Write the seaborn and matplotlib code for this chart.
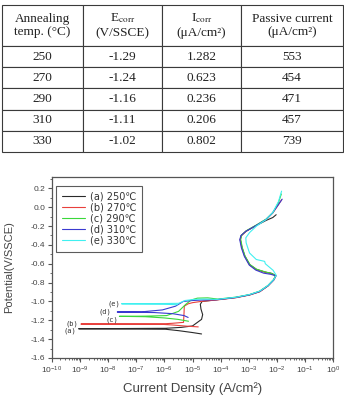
import numpy as np
import pandas as pd
import matplotlib
matplotlib.use('Agg')
import matplotlib.pyplot as plt
import seaborn as sns
from matplotlib.ticker import LogLocator, MultipleLocator, FormatStrFormatter, NullFormatter

# Table data
temps = [250, 270, 290, 310, 330]
e_corr = [-1.29, -1.24, -1.16, -1.11, -1.02]          # V/SSCE
i_corr = [1.282, 0.623, 0.236, 0.206, 0.802]          # uA/cm2
passive = [553, 454, 471, 457, 739]                   # uA/cm2
headers = ['Annealing\ntemp. (°C)', 'E$_{\\mathrm{corr}}$\n(V/SSCE)',
           'I$_{\\mathrm{corr}}$\n(μA/cm²)', 'Passive current\n(μA/cm²)']

# Polarization curves (current A/cm2, potential V)
i_250 = [2.1e-5, 1.0e-5, 3.2e-6, 1.1e-6, 8.9e-10, 1.1e-6, 4.0e-6, 1.0e-5, 2.1e-5, 2.3e-5, 2.0e-5, 1.9e-5,
         2.2e-5, 6.9e-5, 3.5e-4, 1.07e-3, 2.45e-3, 4.8e-3, 7.8e-3, 9.3e-3, 6.6e-3, 3.9e-3, 1.9e-3, 1.1e-3,
         7.3e-4, 5.8e-4, 5.0e-4, 5.4e-4, 8.0e-4, 1.8e-3, 4.2e-3, 7.2e-3, 9.5e-3]
e_250 = [-1.345, -1.33, -1.31, -1.295, -1.29, -1.285, -1.275, -1.26, -1.19, -1.14, -1.08, -1.03,
         -1.0, -0.983, -0.958, -0.93, -0.895, -0.835, -0.77, -0.728, -0.703, -0.69, -0.662, -0.612,
         -0.52, -0.43, -0.345, -0.30, -0.256, -0.197, -0.14, -0.11, -0.08]

i_270 = [1.6e-5, 6.0e-6, 2.0e-6, 8.5e-7, 1.07e-9, 8.5e-7, 1.9e-6, 4.8e-6, 5.0e-6, 5.1e-6, 7.0e-6, 1.0e-5,
         2.0e-5, 7.0e-5, 3.6e-4, 1.08e-3, 2.5e-3, 4.9e-3, 7.9e-3, 9.2e-3, 6.5e-3, 3.7e-3, 1.85e-3, 1.06e-3,
         7.2e-4, 5.7e-4, 5.0e-4, 5.6e-4, 8.3e-4, 1.9e-3, 4.3e-3, 7.3e-3, 1.1e-2, 1.5e-2]
e_270 = [-1.27, -1.262, -1.25, -1.243, -1.24, -1.238, -1.232, -1.222, -1.12, -1.05, -1.025, -1.013,
         -1.0, -0.985, -0.96, -0.932, -0.897, -0.835, -0.77, -0.727, -0.705, -0.688, -0.66, -0.61,
         -0.52, -0.43, -0.343, -0.30, -0.252, -0.192, -0.128, -0.06, 0.02, 0.08]

i_290 = [7.2e-6, 3.0e-6, 1.0e-6, 2.1e-7, 2.5e-8, 2.1e-7, 1.2e-6, 3.2e-6, 5.6e-6, 8.9e-6, 1.5e-5, 3.5e-5,
         8.0e-5, 3.4e-4, 1.05e-3, 2.4e-3, 4.8e-3, 7.7e-3, 9.0e-3, 6.4e-3, 3.8e-3, 1.9e-3, 1.1e-3,
         7.4e-4, 5.9e-4, 5.2e-4, 5.6e-4, 8.2e-4, 1.85e-3, 4.1e-3, 7.2e-3, 1.15e-2, 1.45e-2]
e_290 = [-1.21, -1.19, -1.175, -1.162, -1.158, -1.156, -1.15, -1.105, -1.034, -0.985, -0.965, -0.962,
         -0.975, -0.955, -0.928, -0.892, -0.832, -0.768, -0.725, -0.702, -0.686, -0.658, -0.608,
         -0.518, -0.428, -0.34, -0.298, -0.25, -0.19, -0.128, -0.058, 0.05, 0.14]

i_310 = [7.0e-6, 5.0e-6, 2.0e-6, 4.5e-7, 2.1e-8, 1.6e-7, 8.5e-7, 2.5e-6, 4.7e-6, 1.0e-5, 2.2e-5, 7.0e-5,
         3.5e-4, 1.06e-3, 2.45e-3, 4.8e-3, 7.8e-3, 9.3e-3, 6.0e-3, 3.4e-3, 1.8e-3, 1.05e-3, 7.0e-4,
         5.5e-4, 4.8e-4, 5.3e-4, 7.9e-4, 1.8e-3, 4.1e-3, 7.1e-3, 1.1e-2, 1.55e-2]
e_310 = [-1.17, -1.15, -1.13, -1.118, -1.112, -1.11, -1.09, -1.05, -1.0, -0.99, -0.985, -0.982,
         -0.958, -0.93, -0.895, -0.835, -0.772, -0.728, -0.712, -0.70, -0.668, -0.615, -0.522,
         -0.432, -0.345, -0.302, -0.256, -0.196, -0.132, -0.06, 0.02, 0.085]

i_330 = [3.0e-6, 1.0e-6, 3.0e-8, 1.0e-6, 3.2e-6, 5.5e-6, 1.2e-5, 2.5e-5, 7.5e-5, 3.6e-4, 1.1e-3, 2.5e-3,
         4.9e-3, 7.9e-3, 9.5e-3, 7.4e-3, 3.9e-3, 3.7e-3, 1.86e-3, 1.07e-3, 8.1e-4, 7.9e-4, 1.07e-3,
         1.9e-3, 4.2e-3, 7.3e-3, 1.15e-2, 1.48e-2]
e_330 = [-1.035, -1.03, -1.025, -1.022, -1.02, -0.99, -0.978, -0.975, -0.978, -0.955, -0.926, -0.89,
         -0.83, -0.766, -0.722, -0.67, -0.60, -0.575, -0.555, -0.486, -0.378, -0.325, -0.27,
         -0.2, -0.13, -0.055, 0.06, 0.17]

curves = [(i_250, e_250), (i_270, e_270), (i_290, e_290), (i_310, e_310), (i_330, e_330)]
legend_labels = ['(a) 250℃', '(b) 270℃', '(c) 290℃', '(d) 310℃', '(e) 330℃']
tags = ['(a)', '(b)', '(c)', '(d)', '(e)']
colors = ['#2a2a2a', '#e8403c', '#3ad83a', '#3a3ad0', '#40f0f0']

# Style
sns.set_style('ticks')
plt.rcParams['font.family'] = ['Liberation Sans', 'DejaVu Sans']
plt.rcParams['mathtext.fontset'] = 'stix'
plt.rcParams['axes.unicode_minus'] = False

fig = plt.figure(figsize=(3.44, 3.99), dpi=100)

# Table
ax_t = fig.add_axes([2 / 344, 1 - 152 / 399, 341 / 344, 147 / 399])
ax_t.axis('off')
cells = [[str(t), f'{e:.2f}', f'{i:.3f}', str(p)] for t, e, i, p in zip(temps, e_corr, i_corr, passive)]
tab = ax_t.table(cellText=cells, colLabels=headers, cellLoc='center', bbox=[0, 0, 1, 1],
                 colWidths=[81, 79, 79, 102])
tab.auto_set_font_size(False)
for c in range(4):
    tab[0, c].set_height(tab[1, c].get_height() * 41 / 21.2)
for cell in tab.get_celld().values():
    cell.set_edgecolor('#3a3a3a')
    cell.set_linewidth(0.8)
    cell.get_text().set_fontfamily('Liberation Serif')
    cell.get_text().set_fontsize(9.5)
    cell.get_text().set_color('#222222')

# Polarization plot
ax = fig.add_axes([52 / 344, 1 - 358 / 399, 281 / 344, 181 / 399])
for (cur, pot), lab, col in zip(curves, legend_labels, colors):
    df = pd.DataFrame({'i': cur, 'E': pot})
    sns.lineplot(data=df, x='i', y='E', sort=False, estimator=None, color=col, lw=0.8, label=lab, ax=ax)

# curve tags next to the Ecorr lines (offsets in points)
tag_shift = [(-2, -1.5), (-2, 0), (-1, -2.5), (-4, 0), (-1, 0)]
for (cur, pot), tag, ec, (dx, dy) in zip(curves, tags, e_corr, tag_shift):
    ax.annotate(tag, xy=(min(cur), ec), xytext=(dx, dy), textcoords='offset points',
                ha='right', va='center', fontsize=5, family='DejaVu Sans Mono', color='#333333')

ax.set_xscale('log')
ax.set_xlim(1e-10, 1)
ax.set_ylim(-1.6, 0.32)
ax.xaxis.set_major_locator(LogLocator(base=10, numticks=12))
ax.xaxis.set_minor_locator(LogLocator(base=10, subs=np.arange(2, 10), numticks=12))
ax.xaxis.set_minor_formatter(NullFormatter())
ax.yaxis.set_major_locator(MultipleLocator(0.2))
ax.yaxis.set_minor_locator(MultipleLocator(0.1))
ax.yaxis.set_major_formatter(FormatStrFormatter('%.1f'))
ax.tick_params(which='major', direction='out', length=3, width=0.8, color='#555555',
               labelsize=6, labelcolor='#444444', pad=2)
ax.tick_params(which='minor', direction='out', length=1.5, width=0.6, color='#555555')
for sp in ax.spines.values():
    sp.set_color('#555555')
    sp.set_linewidth(0.9)

ax.set_xlabel('Current Density (A/cm²)', fontsize=9.5, color='#444444')
ax.set_ylabel('Potential(V/SSCE)', fontsize=8, color='#444444')
ax.xaxis.set_label_coords(0.5, -0.135)
ax.yaxis.set_label_coords(-0.135, 0.5)

leg = ax.legend(loc='upper left', bbox_to_anchor=(0.014, 0.95), borderaxespad=0, frameon=True,
                fancybox=False, edgecolor='#333333', handlelength=2.4,
                labelspacing=0.1, borderpad=0.6, handletextpad=0.5,
                prop={'family': ['DejaVu Sans'], 'size': 7})
leg.get_frame().set_linewidth(0.8)
for t in leg.get_texts():
    t.set_color('#333333')

fig.savefig('out.png', dpi=100)
